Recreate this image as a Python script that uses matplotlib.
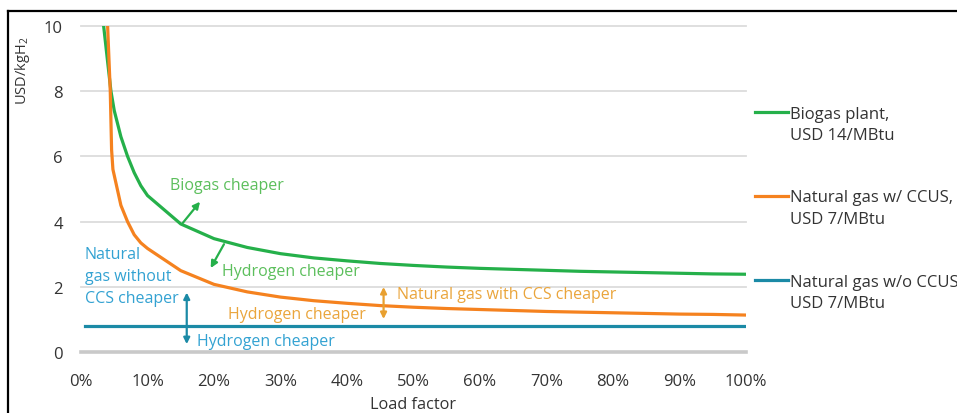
import matplotlib
matplotlib.use("Agg")
import matplotlib.pyplot as plt
from matplotlib.lines import Line2D

plt.rcParams['font.family'] = ['Open Sans', 'DejaVu Sans']
plt.rcParams['mathtext.default'] = 'regular'

# ---- data (load factor in %, cost in USD/kgH2) ----
green_x = [3.0, 3.4, 4.0, 4.5, 5.0, 6.0, 7.0, 8.0, 9.0, 10.0, 15, 20, 25, 30, 35, 40, 45, 50,
           55, 60, 65, 70, 75, 80, 85, 90, 95, 100]
green_y = [11.5, 10.0, 8.9, 8.0, 7.4, 6.6, 6.0, 5.5, 5.1, 4.8, 3.93, 3.48, 3.21, 3.02, 2.89,
           2.80, 2.72, 2.66, 2.61, 2.57, 2.54, 2.51, 2.48, 2.46, 2.44, 2.42, 2.40, 2.39]
orange_x = [3.8, 4.0, 4.4, 4.6, 4.8, 6.0, 7.0, 8.0, 9.0, 10.0, 15, 20, 25, 30, 35, 40, 45, 50,
            55, 60, 65, 70, 75, 80, 85, 90, 95, 100]
orange_y = [11.0, 10.0, 8.0, 6.2, 5.6, 4.5, 4.0, 3.6, 3.35, 3.18, 2.5, 2.08, 1.85, 1.69,
            1.58, 1.50, 1.43, 1.38, 1.34, 1.31, 1.28, 1.25, 1.23, 1.21, 1.19, 1.17, 1.16, 1.14]
blue_x = [0.6, 100]
blue_y = [0.8, 0.8]

series_labels = ["Biogas plant,\nUSD 14/MBtu",
                 "Natural gas w/ CCUS,\nUSD 7/MBtu",
                 "Natural gas w/o CCUS\nUSD 7/MBtu"]
y_ticks = [0, 2, 4, 6, 8, 10]
x_ticks = [0, 10, 20, 30, 40, 50, 60, 70, 80, 90, 100]
x_ticklabels = ["0%", "10%", "20%", "30%", "40%", "50%", "60%", "70%", "80%", "90%", "100%"]

GREEN = '#25b04a'
ORANGE = '#f5821f'
TEAL = '#1b8aa6'
GREEN_T = '#5cbf5c'
ORANGE_T = '#eaa53c'
BLUE_T = '#33a2d2'
TEXT = '#333333'

W, H = 957, 414
fig = plt.figure(figsize=(W / 100, H / 100), dpi=100)
ax = fig.add_axes([81 / W, 1 - 353.3 / H, (746 - 81) / W, (353.3 - 26.7) / H])

ax.set_xlim(0, 100)
ax.set_ylim(0, 10)
for s in ax.spines.values():
    s.set_visible(False)
for v in y_ticks[1:]:
    ax.axhline(v, color='#dcdcdc', lw=1.3, zorder=0, clip_on=False)
ax.axhline(0, color='#c9c9c9', lw=2.6, zorder=0, clip_on=False)

ax.plot(green_x, green_y, color=GREEN, lw=2.3, zorder=3, solid_joinstyle='miter')
ax.plot(orange_x, orange_y, color=ORANGE, lw=2.3, zorder=3, solid_joinstyle='miter')
ax.plot(blue_x, blue_y, color=TEAL, lw=2.3, zorder=3)

ax.set_yticks(y_ticks)
ax.set_xticks(x_ticks)
ax.set_xticklabels(x_ticklabels)
ax.tick_params(axis='both', length=0, labelsize=12, labelcolor=TEXT)
ax.tick_params(axis='y', pad=13)
ax.tick_params(axis='x', pad=15)

fs = 11.5
# annotations
ax.text(13.4, 5.12, "Biogas cheaper", color=GREEN_T, fontsize=fs, va='center', ha='left')
ax.annotate("", xy=(17.9, 4.61), xytext=(15.3, 3.96),
            arrowprops=dict(arrowstyle='-|>', color=GREEN, lw=1.6, mutation_scale=10,
                            shrinkA=0, shrinkB=0))
ax.annotate("", xy=(19.5, 2.58), xytext=(21.5, 3.31),
            arrowprops=dict(arrowstyle='-|>', color=GREEN, lw=1.6, mutation_scale=10,
                            shrinkA=0, shrinkB=0))
ax.text(21.2, 2.49, "Hydrogen cheaper", color=GREEN_T, fontsize=fs, va='center', ha='left')

ax.text(0.6, 2.33, "Natural\ngas without\nCCS cheaper", color=BLUE_T, fontsize=fs,
        va='center', ha='left', linespacing=1.5)
ax.annotate("", xy=(15.9, 1.83), xytext=(15.9, 0.25),
            arrowprops=dict(arrowstyle='<|-|>', color=TEAL, lw=1.6, mutation_scale=9,
                            shrinkA=0, shrinkB=0))
ax.text(17.4, 0.35, "Hydrogen cheaper", color=BLUE_T, fontsize=fs, va='center', ha='left')

ax.annotate("", xy=(45.5, 2.0), xytext=(45.5, 1.02),
            arrowprops=dict(arrowstyle='<|-|>', color='#e8a030', lw=1.6, mutation_scale=9,
                            shrinkA=0, shrinkB=0))
ax.text(47.5, 1.78, "Natural gas with CCS cheaper", color=ORANGE_T, fontsize=fs,
        va='center', ha='left')
ax.text(22.1, 1.17, "Hydrogen cheaper", color=ORANGE_T, fontsize=fs, va='center', ha='left')

# axis titles
fig.text(23 / W, 1 - 71 / H, "USD/kgH$_2$", rotation=90, ha='center', va='center',
         fontsize=10.5, color=TEXT)
fig.text(413 / W, 1 - 405 / H, "Load factor", ha='center', va='center',
         fontsize=11.7, color=TEXT)

# legend on the right
leg_colors = [GREEN, ORANGE, TEAL]
leg_y = [113.3, 196.7, 281]
for lab, c, yy in zip(series_labels, leg_colors, leg_y):
    fig.add_artist(Line2D([755 / W, 788 / W], [1 - yy / H] * 2, color=c, lw=2.3))
    fig.text(790 / W, 1 - (yy + 12.5) / H, lab, ha='left', va='center', fontsize=12,
             color=TEXT, linespacing=1.45)

# outer frame (top and left edges visible)
fig.add_artist(Line2D([8 / W, 1.0], [1 - 12 / H] * 2, color='black', lw=1.6))
fig.add_artist(Line2D([8 / W, 8 / W], [0, 1 - 12 / H], color='black', lw=1.6))

fig.savefig("out.png", dpi=100)
